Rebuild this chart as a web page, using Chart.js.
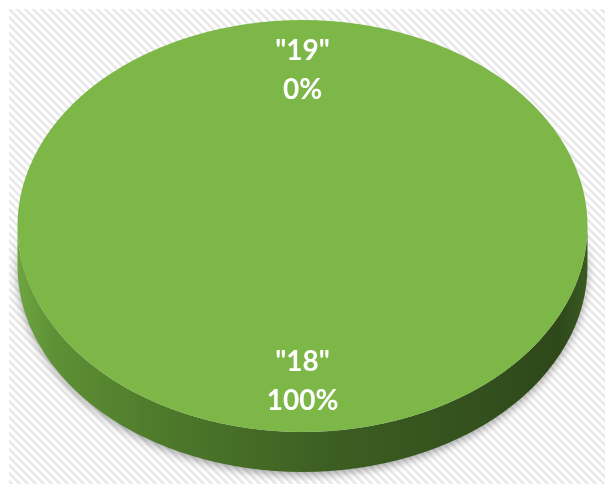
<!DOCTYPE html>
<html>
<head>
<meta charset="utf-8">
<title>Pie</title>
<script src="https://cdn.jsdelivr.net/npm/chart.js@4/dist/chart.umd.min.js"></script>
<style>
  html, body { margin: 0; padding: 0; background: #ffffff; }
  #wrap { width: 605px; height: 484px; }
</style>
</head>
<body>
<div id="wrap"><canvas id="pie" width="605" height="484"></canvas></div>
<script>
// Categories and their values
const categories = ['"18"', '"19"'];
const values = [100, 0];

// Look of the tilted pie
const topColor = '#7DB748';
const depth = 40;           // thickness of the pie wall, px
const tiltX = 285 / 242;    // horizontal stretch of the library's circle
const tiltY = 206 / 242;    // vertical squash of the library's circle
const centerShiftY = -16;   // moves the disc up to leave room for the wall

function hatchPattern(ctx) {
  const tile = document.createElement('canvas');
  tile.width = 8; tile.height = 8;
  const t = tile.getContext('2d');
  t.fillStyle = '#ffffff';
  t.fillRect(0, 0, 8, 8);
  t.strokeStyle = '#e8e8e8';
  t.lineWidth = 2.6;
  t.beginPath();
  t.moveTo(-4, -4); t.lineTo(12, 12);
  t.moveTo(-12, -4); t.lineTo(4, 12);
  t.moveTo(4, -4); t.lineTo(20, 12);
  t.stroke();
  return ctx.createPattern(tile, 'repeat');
}

function geometry(chart) {
  const arc = chart.getDatasetMeta(0).data[0];
  const r = arc.outerRadius;
  return {
    cx: arc.x, cy: arc.y, r,
    ex: arc.x, ey: arc.y + centerShiftY,
    rx: r * tiltX, ry: r * tiltY
  };
}

const pie3d = {
  id: 'pie3d',
  beforeDraw(chart) {
    const ctx = chart.ctx;
    ctx.save();
    ctx.fillStyle = '#ffffff';
    ctx.fillRect(0, 0, chart.width, chart.height);
    ctx.fillStyle = hatchPattern(ctx);
    ctx.fillRect(9, 9, chart.width - 9, chart.height - 9);
    ctx.restore();
  },
  beforeDatasetsDraw(chart) {
    const ctx = chart.ctx;
    const g = geometry(chart);
    const meta = chart.getDatasetMeta(0);

    // the front wall of every slice
    const grad = ctx.createLinearGradient(g.ex - g.rx, 0, g.ex + g.rx, 0);
    grad.addColorStop(0, '#6fa540');
    grad.addColorStop(0.06, '#5e9136');
    grad.addColorStop(0.25, '#4e7a2b');
    grad.addColorStop(0.55, '#3c5e22');
    grad.addColorStop(0.95, '#2e481a');
    grad.addColorStop(1, '#3a5a21');

    meta.data.forEach((el) => {
      const a0 = el.startAngle, a1 = el.endAngle;
      if (a1 - a0 <= 0) return;
      for (let k = -1; k <= 1; k++) {
        const s = Math.max(a0, 2 * Math.PI * k);
        const e = Math.min(a1, Math.PI + 2 * Math.PI * k);
        if (e <= s) continue;
        ctx.save();
        ctx.shadowColor = 'rgba(0,0,0,0.35)';
        ctx.shadowBlur = 9;
        ctx.shadowOffsetY = 3;
        ctx.beginPath();
        ctx.ellipse(g.ex, g.ey, g.rx, g.ry, 0, s, e);
        ctx.ellipse(g.ex, g.ey + depth, g.rx, g.ry, 0, e, s, true);
        ctx.closePath();
        ctx.fillStyle = grad;
        ctx.fill();
        ctx.restore();
      }
    });

    // the library's slices are drawn through this tilt
    ctx.save();
    ctx.translate(g.ex, g.ey);
    ctx.scale(tiltX, tiltY);
    ctx.translate(-g.cx, -g.cy);
  },
  afterDatasetsDraw(chart) {
    const ctx = chart.ctx;
    ctx.restore();

    const g = geometry(chart);
    const meta = chart.getDatasetMeta(0);
    const total = values.reduce((a, b) => a + b, 0);

    ctx.save();
    ctx.fillStyle = '#ffffff';
    ctx.font = 'bold 28px Lato, "Open Sans", sans-serif';
    ctx.textAlign = 'center';
    ctx.textBaseline = 'middle';
    meta.data.forEach((el, i) => {
      const mid = (el.startAngle + el.endAngle) / 2;
      const x = g.ex + Math.cos(mid) * g.rx * 0.755;
      const y = g.ey + Math.sin(mid) * g.ry * 0.755;
      const pct = Math.round(values[i] / total * 100) + '%';
      ctx.fillText(categories[i], x, y - 19.5);
      ctx.fillText(pct, x, y + 19.5);
    });
    ctx.restore();
  }
};

new Chart(document.getElementById('pie'), {
  type: 'pie',
  data: {
    labels: categories,
    datasets: [{
      data: values,
      backgroundColor: [topColor, topColor],
      borderWidth: 0,
      clip: false
    }]
  },
  options: {
    responsive: false,
    animation: false,
    devicePixelRatio: 1,
    layout: { padding: 0 },
    plugins: {
      legend: { display: false },
      tooltip: { enabled: false }
    },
    events: []
  },
  plugins: [pie3d]
});
</script>
</body>
</html>
